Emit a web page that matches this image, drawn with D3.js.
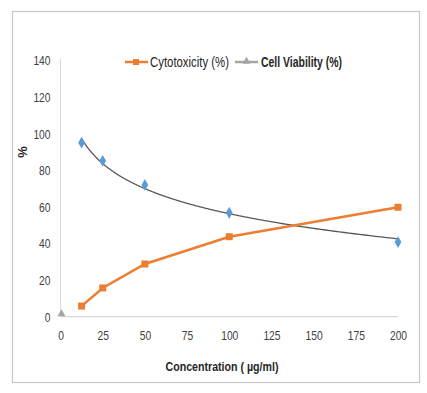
<!DOCTYPE html>
<html><head><meta charset="utf-8">
<script src="https://cdn.jsdelivr.net/npm/d3@7"></script>
<style>html,body{margin:0;padding:0;background:#fff;}svg{display:block;}</style>
</head><body>
<script>
const concentrations = [12.5, 25, 50, 100, 200];
const cytotoxicity = [5.8, 15.7, 28.8, 43.7, 59.8];
const viabilityPoints = [95.1, 85.2, 72.0, 56.8, 40.8];
const cellViabilityX = [0];
const cellViabilityY = [1.5];
const xTicks = [0, 25, 50, 75, 100, 125, 150, 175, 200];
const yTicks = [0, 20, 40, 60, 80, 100, 120, 140];

const W = 427, H = 393;
const font = "'Liberation Sans', Arial, sans-serif";
const svg = d3.select("body").append("svg").attr("width", W).attr("height", H);
svg.append("rect").attr("x", 12.5).attr("y", 11.5).attr("width", 407).attr("height", 371)
  .attr("fill", "#fff").attr("stroke", "#c8c8c8").attr("stroke-width", 1.2);

function condense(sel, f) {
  sel.each(function () {
    const w = this.getComputedTextLength();
    d3.select(this).attr("textLength", w * f).attr("lengthAdjust", "spacingAndGlyphs");
  });
}

const x = d3.scaleLinear().domain([0, 200]).range([60.5, 398]);
const y = d3.scaleLinear().domain([0, 140]).range([316.7, 60.5]);

svg.append("line").attr("x1", x(0)).attr("x2", x(0)).attr("y1", y(140) - 2).attr("y2", y(0))
  .attr("stroke", "#d9d9d9").attr("stroke-width", 1);
svg.append("line").attr("x1", x(0)).attr("x2", x(200)).attr("y1", y(0)).attr("y2", y(0))
  .attr("stroke", "#d9d9d9").attr("stroke-width", 1.2);

const yAxis = d3.axisLeft(y).tickValues(yTicks).tickSize(0).tickPadding(10);
const gy = svg.append("g").attr("transform", `translate(${x(0)},0)`).call(yAxis);
gy.select(".domain").remove();
gy.selectAll("text").attr("font-family", font).attr("font-size", 13.5).attr("fill", "#404040").call(condense, 0.76);

const xAxis = d3.axisBottom(x).tickValues(xTicks).tickSize(0).tickPadding(14);
const gx = svg.append("g").attr("transform", `translate(0,${y(0)})`).call(xAxis);
gx.select(".domain").remove();
gx.selectAll("text").attr("font-family", font).attr("font-size", 13.5).attr("fill", "#404040").call(condense, 0.76);

svg.append("text").attr("x", 222).attr("y", 370.5).attr("text-anchor", "middle")
  .attr("font-family", font).attr("font-size", 13.5).attr("font-weight", "bold").attr("fill", "#262626")
  .text("Concentration ( µg/ml)").attr("textLength", 113).attr("lengthAdjust", "spacingAndGlyphs");
svg.append("text").attr("transform", "translate(27,152) rotate(-90)").attr("text-anchor", "middle")
  .attr("font-family", font).attr("font-size", 13).attr("font-weight", "bold").attr("fill", "#262626")
  .text("%");

const lx = concentrations.map(Math.log);
const mx = d3.mean(lx), my = d3.mean(viabilityPoints);
const b = d3.sum(lx.map((v, i) => (v - mx) * (viabilityPoints[i] - my))) / d3.sum(lx.map(v => (v - mx) ** 2));
const a = my - b * mx;
const trendX = d3.range(0, 161).map(i => Math.exp(Math.log(12.5) + i / 160 * (Math.log(200) - Math.log(12.5))));
svg.append("path").datum(trendX)
  .attr("d", d3.line().x(d => x(d)).y(d => y(a + b * Math.log(d))))
  .attr("fill", "none").attr("stroke", "#595959").attr("stroke-width", 1.3);

const diamond = d3.symbol().type(d3.symbolDiamond).size(40);
svg.selectAll(".dia").data(concentrations).enter().append("path")
  .attr("transform", (d, i) => `translate(${x(d)},${y(viabilityPoints[i])})`)
  .attr("d", diamond).attr("fill", "#5b9bd5");

svg.append("path").datum(concentrations)
  .attr("d", d3.line().x(d => x(d)).y((d, i) => y(cytotoxicity[i])))
  .attr("fill", "none").attr("stroke", "#ed7d31").attr("stroke-width", 2.5);
svg.selectAll(".sq").data(concentrations).enter().append("rect")
  .attr("x", d => x(d) - 3.5).attr("y", (d, i) => y(cytotoxicity[i]) - 3.5)
  .attr("width", 7).attr("height", 7).attr("fill", "#ed7d31");

const tri = d3.symbol().type(d3.symbolTriangle).size(28);
svg.selectAll(".tri").data(cellViabilityX).enter().append("path")
  .attr("transform", (d, i) => `translate(${x(d) + 1},${y(cellViabilityY[i])})`)
  .attr("d", tri).attr("fill", "#a5a5a5");

const ly = 62;
svg.append("line").attr("x1", 125).attr("x2", 148).attr("y1", ly).attr("y2", ly).attr("stroke", "#ed7d31").attr("stroke-width", 2.5);
svg.append("rect").attr("x", 133).attr("y", ly - 3).attr("width", 6).attr("height", 6).attr("fill", "#ed7d31");
svg.append("text").attr("x", 150).attr("y", ly + 5).attr("font-family", font).attr("font-size", 14).attr("fill", "#262626")
  .text("Cytotoxicity (%)").attr("textLength", 79).attr("lengthAdjust", "spacingAndGlyphs");
svg.append("line").attr("x1", 235).attr("x2", 258).attr("y1", ly).attr("y2", ly).attr("stroke", "#a5a5a5").attr("stroke-width", 2.5);
svg.append("path").attr("transform", `translate(246.5,${ly - 0.5})`).attr("d", tri).attr("fill", "#a5a5a5");
svg.append("text").attr("x", 261).attr("y", ly + 5).attr("font-family", font).attr("font-size", 14).attr("font-weight", "bold").attr("fill", "#262626")
  .text("Cell Viability (%)").attr("textLength", 81).attr("lengthAdjust", "spacingAndGlyphs");
</script>
</body></html>
